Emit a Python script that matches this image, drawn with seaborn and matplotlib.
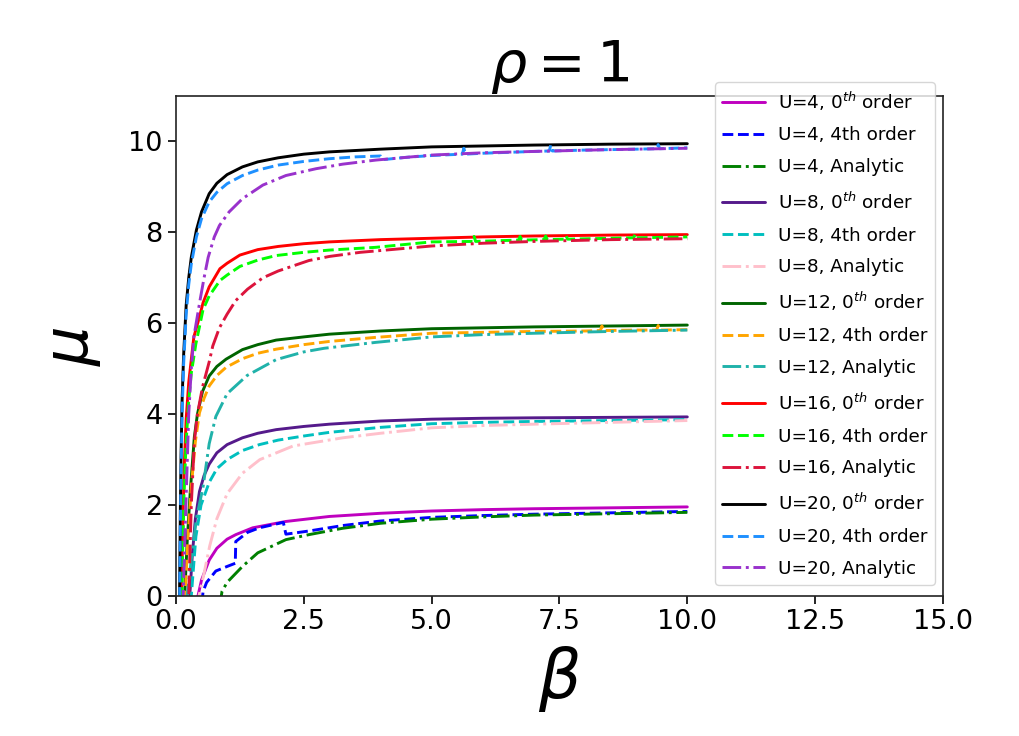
import matplotlib
matplotlib.use("Agg")
import matplotlib.pyplot as plt
import seaborn as sns
import pandas as pd

# ---------------- data ----------------
# U = 20
b20_0 = [0.05, 0.07, 0.085, 0.1, 0.12, 0.15, 0.2, 0.25, 0.3, 0.4, 0.5, 0.65, 0.8, 1.0, 1.3, 1.6, 2.0, 2.5, 3.0, 4.0, 5.0, 6.0, 7.0, 8.5, 10.0]
m20_0 = [-4.0, 0.0, 1.8, 3.1, 4.3, 5.3, 6.4, 7.0, 7.45, 8.05, 8.45, 8.85, 9.08, 9.27, 9.44, 9.55, 9.64, 9.72, 9.77, 9.83, 9.88, 9.9, 9.92, 9.94, 9.95]
b20_4 = [0.05, 0.07, 0.085, 0.1, 0.12, 0.15, 0.2, 0.25, 0.3, 0.4, 0.5, 0.65, 0.8, 1.0, 1.3, 1.6, 2.0, 2.5, 3.0, 3.5, 4.0, 4.05, 4.5, 5.0, 5.6, 5.63, 5.66, 6.0, 6.5, 7.0, 7.3, 7.33, 7.36, 8.0, 9.0, 9.4, 9.43, 9.46, 10.0]
m20_4 = [-4.0, -0.3, 1.4, 2.8, 4.0, 5.1, 6.2, 6.85, 7.3, 7.9, 8.3, 8.67, 8.88, 9.07, 9.25, 9.37, 9.48, 9.56, 9.62, 9.66, 9.68, 9.6, 9.65, 9.69, 9.72, 9.85, 9.72, 9.74, 9.76, 9.78, 9.79, 9.92, 9.79, 9.81, 9.83, 9.84, 9.93, 9.84, 9.86]
b20_a = [0.1, 0.14, 0.2, 0.25, 0.3, 0.35, 0.41, 0.47, 0.55, 0.63, 0.75, 0.85, 1.04, 1.3, 1.7, 2.15, 2.74, 3.26, 3.91, 5.0, 6.0, 7.0, 8.5, 10.0]
m20_a = [-3.0, 0.0, 2.2, 4.0, 5.0, 5.7, 6.1, 6.5, 7.0, 7.45, 7.9, 8.15, 8.45, 8.74, 9.04, 9.25, 9.4, 9.5, 9.59, 9.7, 9.75, 9.78, 9.82, 9.85]
# U = 16
b16_0 = [0.08, 0.11, 0.13, 0.16, 0.2, 0.25, 0.3, 0.35, 0.45, 0.53, 0.65, 0.86, 1.0, 1.25, 1.6, 2.0, 2.5, 3.0, 4.0, 5.0, 6.0, 7.0, 8.5, 10.0]
m16_0 = [-3.0, 0.0, 1.3, 2.8, 3.9, 4.7, 5.2, 5.7, 6.1, 6.45, 6.8, 7.2, 7.32, 7.5, 7.62, 7.69, 7.75, 7.79, 7.84, 7.87, 7.9, 7.92, 7.94, 7.95]
b16_4 = [0.08, 0.11, 0.13, 0.16, 0.2, 0.25, 0.3, 0.39, 0.53, 0.65, 0.86, 1.0, 1.25, 1.6, 1.96, 2.5, 3.0, 3.9, 5.0, 5.8, 5.83, 5.86, 6.7, 6.73, 6.76, 7.2, 7.23, 7.26, 7.6, 7.63, 7.66, 8.95, 8.98, 9.01, 10.0]
m16_4 = [-3.5, -0.4, 0.9, 2.3, 3.4, 4.3, 4.9, 5.55, 6.3, 6.6, 6.94, 7.06, 7.25, 7.39, 7.49, 7.56, 7.61, 7.67, 7.79, 7.8, 7.91, 7.8, 7.83, 7.91, 7.83, 7.84, 7.92, 7.84, 7.85, 7.92, 7.85, 7.88, 7.96, 7.88, 7.9]
b16_a = [0.2, 0.25, 0.3, 0.36, 0.42, 0.52, 0.65, 0.72, 0.85, 1.0, 1.17, 1.4, 1.7, 2.0, 2.6, 3.0, 3.6, 4.0, 5.0, 6.0, 7.0, 8.5, 10.0]
m16_a = [-2.0, 0.0, 2.0, 3.4, 4.0, 4.6, 5.15, 5.5, 5.9, 6.2, 6.5, 6.75, 7.0, 7.15, 7.38, 7.47, 7.56, 7.6, 7.7, 7.76, 7.8, 7.84, 7.86]
# U = 12
b12_0 = [0.12, 0.17, 0.22, 0.28, 0.36, 0.42, 0.52, 0.65, 0.8, 0.98, 1.3, 1.6, 1.96, 2.5, 3.0, 4.0, 5.0, 6.0, 7.0, 8.5, 10.0]
m12_0 = [-2.5, 0.0, 1.2, 2.3, 3.5, 4.0, 4.5, 4.84, 5.05, 5.21, 5.42, 5.53, 5.63, 5.7, 5.76, 5.83, 5.88, 5.9, 5.92, 5.94, 5.96]
b12_4 = [0.13, 0.18, 0.23, 0.3, 0.38, 0.46, 0.55, 0.65, 0.8, 0.98, 1.3, 1.6, 1.96, 2.5, 3.0, 3.91, 5.0, 6.0, 7.0, 8.0, 8.3, 8.33, 8.36, 9.0, 9.4, 9.43, 9.46, 10.0]
m12_4 = [-2.5, 0.0, 1.2, 2.4, 3.4, 4.03, 4.35, 4.62, 4.85, 5.03, 5.22, 5.34, 5.43, 5.53, 5.6, 5.69, 5.78, 5.8, 5.82, 5.83, 5.84, 5.94, 5.84, 5.85, 5.85, 5.95, 5.85, 5.86]
b12_a = [0.18, 0.22, 0.3, 0.4, 0.53, 0.65, 0.78, 1.0, 1.39, 1.96, 2.5, 2.9, 3.91, 5.0, 6.0, 7.0, 8.5, 10.0]
m12_a = [-1.5, 0.0, 0.8, 1.7, 2.4, 3.35, 3.95, 4.45, 4.85, 5.2, 5.37, 5.45, 5.58, 5.7, 5.75, 5.78, 5.82, 5.85]
# U = 8
b8_0 = [0.2, 0.27, 0.32, 0.38, 0.46, 0.55, 0.65, 0.8, 1.0, 1.3, 1.6, 1.96, 2.5, 3.0, 4.0, 5.0, 6.0, 7.0, 8.5, 10.0]
m8_0 = [-1.5, 0.0, 0.9, 1.7, 2.3, 2.65, 2.9, 3.15, 3.33, 3.48, 3.58, 3.66, 3.73, 3.78, 3.85, 3.89, 3.91, 3.92, 3.93, 3.94]
b8_4 = [0.22, 0.3, 0.39, 0.49, 0.65, 0.8, 1.0, 1.3, 1.63, 2.0, 2.5, 3.0, 4.0, 5.0, 6.0, 7.0, 8.5, 10.0]
m8_4 = [-1.5, 0.0, 1.31, 2.0, 2.5, 2.8, 3.0, 3.2, 3.33, 3.43, 3.52, 3.6, 3.71, 3.79, 3.82, 3.84, 3.86, 3.88]
b8_a = [0.38, 0.45, 0.55, 0.66, 0.8, 1.0, 1.3, 1.64, 2.29, 3.26, 4.0, 5.0, 6.0, 7.0, 8.5, 10.0]
m8_a = [-1.0, 0.0, 0.5, 1.1, 1.7, 2.25, 2.7, 3.0, 3.3, 3.48, 3.58, 3.7, 3.75, 3.78, 3.82, 3.86]
# U = 4
b4_0 = [0.35, 0.43, 0.5, 0.65, 0.8, 1.0, 1.17, 1.5, 2.15, 3.0, 4.0, 5.0, 6.0, 7.0, 8.5, 10.0]
m4_0 = [-1.0, 0.0, 0.35, 0.79, 1.05, 1.25, 1.35, 1.5, 1.64, 1.75, 1.82, 1.87, 1.9, 1.92, 1.94, 1.96]
b4_4 = [0.48, 0.53, 0.6, 0.78, 1.0, 1.16, 1.17, 1.4, 1.63, 2.1, 2.15, 2.6, 3.26, 4.0, 5.0, 6.0, 7.0, 8.5, 10.0]
m4_4 = [-0.5, 0.1, 0.3, 0.55, 0.65, 0.72, 1.2, 1.4, 1.5, 1.62, 1.36, 1.43, 1.55, 1.65, 1.73, 1.77, 1.8, 1.83, 1.86]
b4_a = [0.85, 0.9, 1.0, 1.3, 1.6, 2.15, 2.6, 3.26, 4.0, 5.0, 6.0, 7.0, 8.5, 10.0]
m4_a = [-0.3, 0.1, 0.3, 0.65, 0.95, 1.24, 1.35, 1.49, 1.6, 1.69, 1.74, 1.78, 1.81, 1.84]

labels = [
    r"U=4, 0$^{th}$ order", "U=4, 4th order", "U=4, Analytic",
    r"U=8, 0$^{th}$ order", "U=8, 4th order", "U=8, Analytic",
    r"U=12, 0$^{th}$ order", "U=12, 4th order", "U=12, Analytic",
    r"U=16, 0$^{th}$ order", "U=16, 4th order", "U=16, Analytic",
    r"U=20, 0$^{th}$ order", "U=20, 4th order", "U=20, Analytic",
]
colors = ["#bf00bf", "#0000ff", "#008000",
          "#551a8b", "#00bfbf", "#ffc0cb",
          "#006400", "#ffa500", "#20b2aa",
          "#ff0000", "#00ff00", "#dc143c",
          "#000000", "#1e90ff", "#9932cc"]
styles = ["-", "--", "-."] * 5

series = [(b4_0, m4_0), (b4_4, m4_4), (b4_a, m4_a),
          (b8_0, m8_0), (b8_4, m8_4), (b8_a, m8_a),
          (b12_0, m12_0), (b12_4, m12_4), (b12_a, m12_a),
          (b16_0, m16_0), (b16_4, m16_4), (b16_a, m16_a),
          (b20_0, m20_0), (b20_4, m20_4), (b20_a, m20_a)]

# ---------------- plot ----------------
sns.set_theme(style="ticks")
plt.rcParams["font.family"] = ["DejaVu Sans"]
plt.rcParams["mathtext.fontset"] = "dejavusans"
plt.rcParams["text.color"] = "black"
plt.rcParams["axes.labelcolor"] = "black"
plt.rcParams["xtick.color"] = "black"
plt.rcParams["ytick.color"] = "black"

fig = plt.figure(figsize=(10.2, 7.36), dpi=100)
ax = fig.add_axes([0.1725, 0.1902, 0.7520, 0.6794])

for (bx, my), lab, col, ls in zip(series, labels, colors, styles):
    df = pd.DataFrame({"beta": bx, "mu": my})
    sns.lineplot(data=df, x="beta", y="mu", ax=ax, color=col, linestyle=ls,
                 linewidth=2.1, label=lab, sort=False, estimator=None)

ax.set_xlim(0, 15)
ax.set_ylim(0, 11)
ax.set_xticks([0, 2.5, 5, 7.5, 10, 12.5, 15])
ax.set_xticklabels(["0.0", "2.5", "5.0", "7.5", "10.0", "12.5", "15.0"])
ax.set_yticks([0, 2, 4, 6, 8, 10])
ax.tick_params(labelsize=19.5, length=6, width=1.2, colors="black")
for s in ax.spines.values():
    s.set_color("#222222")
    s.set_linewidth(1.2)

ax.set_title(r"$\rho=1$", fontsize=41, pad=4)
ax.set_xlabel(r"$\beta$", fontsize=48, labelpad=6)
ax.set_ylabel(r"$\mu$", fontsize=45, labelpad=18)

ax.legend(loc="upper right", bbox_to_anchor=(0.9896, 1.028), borderaxespad=0,
          fontsize=13.2, labelspacing=0.75, handlelength=2.35, handletextpad=0.7,
          borderpad=0.4, framealpha=0.8)

fig.savefig("out.png", dpi=100)
